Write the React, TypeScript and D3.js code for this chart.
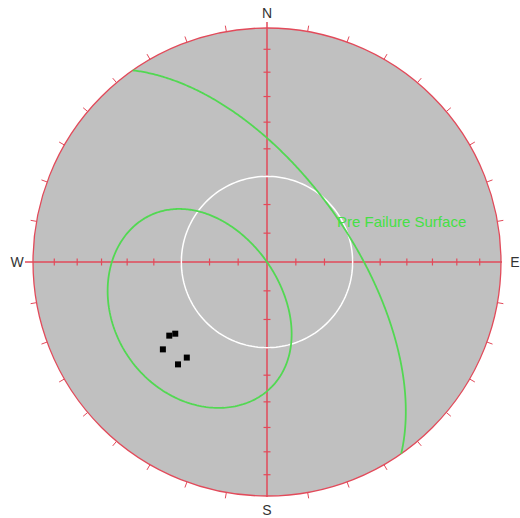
import React from "react";
import * as d3 from "d3";

// Lower-hemisphere equal-area stereonet: slope plane, daylight envelope,
// friction cone and measured poles.
const cardinalLabels = ["N", "E", "S", "W"];
const cardinalAzimuths = [0, 90, 180, 270];

const slopeName = "Pre Failure Surface";
const slopeDipDirection = 55; // degrees
const slopeDip = 61; // degrees
const frictionAngle = 30; // degrees

// Poles to discontinuities (trend, plunge in degrees)
const poleTrends = [233, 232, 230, 220, 221];
const polePlunges = [46.6, 48.8, 41.5, 45.7, 41.6];

const W = 520;
const H = 518;
const cx = 267;
const cy = 262;
const R = 234;

const rad = Math.PI / 180;

const xScale = d3.scaleLinear().domain([-1, 1]).range([cx - R, cx + R]);
const yScale = d3.scaleLinear().domain([-1, 1]).range([cy + R, cy - R]);

// Equal-area (Schmidt) radial distance, normalised to the primitive
const eqArea = (plunge: number) => Math.SQRT2 * Math.sin(((90 - plunge) / 2) * rad);

function project(trend: number, plunge: number): [number, number] {
  const r = eqArea(plunge);
  return [xScale(r * Math.sin(trend * rad)), yScale(r * Math.cos(trend * rad))];
}

// Lines lying in a plane, from one strike end to the other
function planeLines(dipDir: number, dip: number): [number, number][] {
  const strike = dipDir - 90;
  const s = [Math.sin(strike * rad), Math.cos(strike * rad), 0];
  const d = [
    Math.cos(dip * rad) * Math.sin(dipDir * rad),
    Math.cos(dip * rad) * Math.cos(dipDir * rad),
    Math.sin(dip * rad),
  ];
  return d3.range(0, 180.5, 0.5).map((t) => {
    const c = Math.cos(t * rad);
    const sn = Math.sin(t * rad);
    const e = c * s[0] + sn * d[0];
    const n = c * s[1] + sn * d[1];
    const dn = Math.max(-1, Math.min(1, c * s[2] + sn * d[2]));
    const plunge = Math.asin(dn) / rad;
    const trend = Math.atan2(e, n) / rad;
    return [trend, plunge];
  });
}

const lineGen = d3.line<[number, number]>().x((p) => p[0]).y((p) => p[1]);

export default function App() {
  const red = "#e24a5a";
  const green = "#52d852";

  const slopeLines = planeLines(slopeDipDirection, slopeDip);
  const greatCircle = lineGen(slopeLines.map(([t, p]) => project(t, p))) || "";
  // Daylight envelope: poles of planes whose dip vector lies in the slope plane
  const envelope =
    lineGen(slopeLines.map(([t, p]) => project(t + 180, 90 - p))) || "";
  const cone =
    lineGen(d3.range(0, 361, 2).map((t) => project(t, 90 - frictionAngle))) || "";

  const perimeterTicks = d3.range(10, 360, 10).filter((a) => a % 90 !== 0);
  // 10° dip graduations along the axes
  const tickDist = d3.range(10, 90, 10).map((dip) => eqArea(90 - dip) * R);
  const labelOffset = [R + 15, R + 14, R + 14, R + 16];

  return (
    <svg
      width={W}
      height={H}
      style={{ position: "absolute", left: 0, top: 0, background: "#fff" }}
      fontFamily="'Liberation Sans', Arial, sans-serif"
    >
      <circle cx={cx} cy={cy} r={R} fill="#c0c0c0" stroke={red} strokeWidth={1.3} />

      {perimeterTicks.map((a) => {
        const sx = Math.sin(a * rad);
        const sy = -Math.cos(a * rad);
        return (
          <line
            key={a}
            x1={cx + sx * R}
            y1={cy + sy * R}
            x2={cx + sx * (R + 6)}
            y2={cy + sy * (R + 6)}
            stroke={red}
            strokeWidth={1}
          />
        );
      })}

      {/* crosshair */}
      <line x1={cx - R - 8} y1={cy} x2={cx + R + 1} y2={cy} stroke={red} strokeWidth={1.5} />
      <line x1={cx} y1={cy - R - 6} x2={cx} y2={cy + R + 1} stroke={red} strokeWidth={1.5} />
      {tickDist.map((d, i) => (
        <g key={i} stroke={red} strokeWidth={1.2}>
          <line x1={cx + d} y1={cy - 3.5} x2={cx + d} y2={cy + 3.5} />
          <line x1={cx - d} y1={cy - 3.5} x2={cx - d} y2={cy + 3.5} />
          <line x1={cx - 3.5} y1={cy + d} x2={cx + 3.5} y2={cy + d} />
          <line x1={cx - 3.5} y1={cy - d} x2={cx + 3.5} y2={cy - d} />
        </g>
      ))}

      <path d={cone} fill="none" stroke="#ffffff" strokeWidth={1.5} />
      <path d={greatCircle} fill="none" stroke={green} strokeWidth={1.8} />
      <path d={envelope} fill="none" stroke={green} strokeWidth={1.8} />

      {poleTrends.map((t, i) => {
        const [px, py] = project(t, polePlunges[i]);
        return <rect key={i} x={px - 3} y={py - 3} width={6} height={6} fill="#000" />;
      })}

      <text x={337} y={227} fontSize={15} fill="#45e045">
        {slopeName}
      </text>

      {cardinalLabels.map((lab, i) => {
        const a = cardinalAzimuths[i];
        const off = labelOffset[i];
        return (
          <text
            key={lab}
            x={cx + Math.sin(a * rad) * off}
            y={cy - Math.cos(a * rad) * off}
            fontSize={14}
            fill="#333"
            textAnchor="middle"
            dominantBaseline="central"
          >
            {lab}
          </text>
        );
      })}
    </svg>
  );
}
